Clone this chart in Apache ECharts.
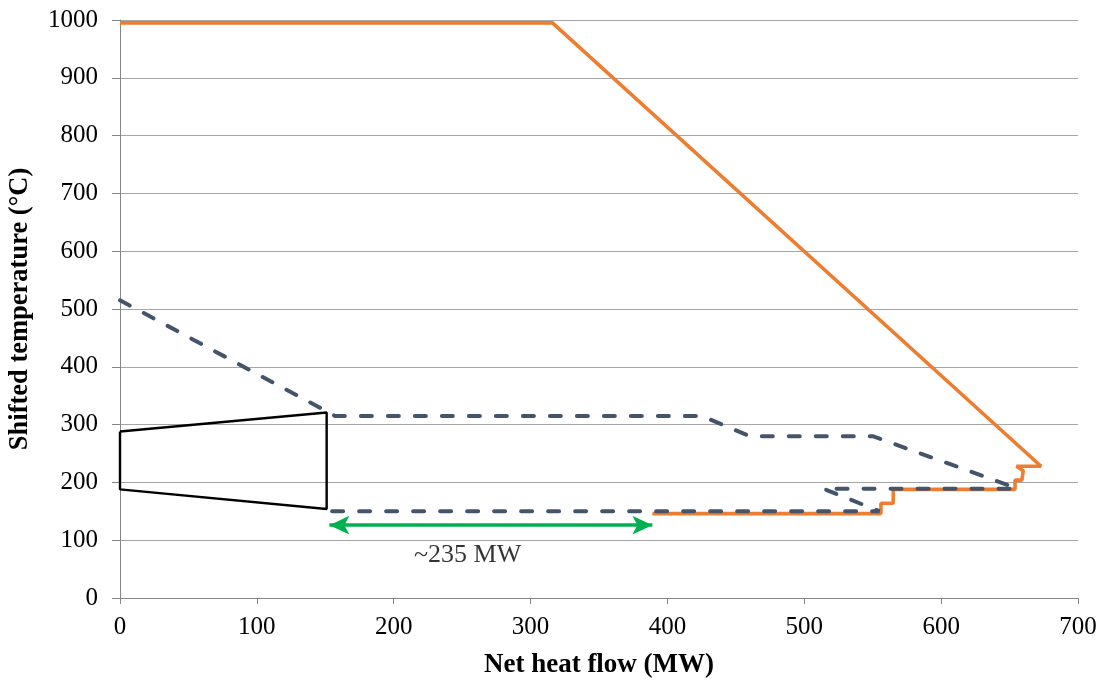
<!DOCTYPE html>
<html><head><meta charset="utf-8">
<script src="https://cdn.jsdelivr.net/npm/echarts@6/dist/echarts.min.js"></script>
<style>html,body{margin:0;padding:0;background:#fff}#c{width:1106px;height:682px}</style>
</head><body><div id="c"></div>
<script>
// Data (x: net heat flow MW, y: shifted temperature °C)
const xTicks = [0,100,200,300,400,500,600,700];
const yTicks = [0,100,200,300,400,500,600,700,800,900,1000];
const grandCompositeCurve = [[0,995],[316,995],[673,228],[655,228],[660,220],[659,204],[654,204],[654,188],[565,188],[565,164],[556,164],[556,146],[389,146]];
const hotDashed = [[0,515],[151,323],[157,315],[425,315],[460,280],[550,280],[655,190]];
const coldDashed = [[155,150],[555,150],[514,189],[655,189]];
const blackOutline = [[0,288],[151,321],[151,154],[0,188],[0,288]];
const arrowStart = [153,126];
const arrowEnd = [389,126];
const arrowLabel = '~235 MW';
const arrowLabelPos = [254,74];

const chart = echarts.init(document.getElementById('c'));
const font = 'Liberation Serif, Times New Roman, serif';
chart.setOption({
  animation:false,
  grid:{left:120,right:28,top:20,bottom:84,containLabel:false,outerBoundsMode:'none'},
  xAxis:{type:'value',min:xTicks[0],max:xTicks[xTicks.length-1],interval:100,
    name:'Net heat flow (MW)',nameLocation:'middle',nameGap:54,
    nameTextStyle:{fontFamily:font,fontSize:27,fontWeight:'bold',color:'#000'},
    axisLine:{show:true,lineStyle:{color:'#868686',width:1}},
    axisTick:{show:true,length:6,lineStyle:{color:'#868686'}},
    axisLabel:{fontFamily:font,fontSize:25,color:'#000',margin:17},
    splitLine:{show:false}},
  yAxis:{type:'value',min:yTicks[0],max:yTicks[yTicks.length-1],interval:100,
    name:'Shifted temperature (°C)',nameLocation:'middle',nameGap:86,
    nameTextStyle:{fontFamily:font,fontSize:26.5,fontWeight:'bold',color:'#000'},
    axisLine:{show:true,lineStyle:{color:'#868686',width:1}},
    axisTick:{show:true,length:8,lineStyle:{color:'#868686'}},
    axisLabel:{fontFamily:font,fontSize:25,color:'#000',margin:22,formatter:v=>String(v)},
    splitLine:{show:true,lineStyle:{color:'#a6a6a6',width:1}}},
  series:[
    {type:'line',data:blackOutline,showSymbol:false,symbol:'none',z:3,
      lineStyle:{color:'#000',width:2.4}},
    {type:'line',data:hotDashed,symbol:'none',z:4,
      lineStyle:{color:'#44546A',width:4,type:[11,16],cap:'round'}},
    {type:'line',data:coldDashed,symbol:'none',z:4,
      lineStyle:{color:'#44546A',width:4,type:[11,16],cap:'round'}},
    {type:'line',data:grandCompositeCurve,symbol:'none',z:3,
      lineStyle:{color:'#ED7D31',width:3.6}},
    {type:'scatter',data:[arrowLabelPos],symbolSize:1,itemStyle:{color:'rgba(0,0,0,0)'},z:5,
      label:{show:true,formatter:arrowLabel,position:'inside',fontFamily:font,fontSize:26,color:'#000',textBorderWidth:0},
      markLine:{silent:true,symbol:['arrow','arrow'],symbolSize:[14,20],
        lineStyle:{color:'#00B050',width:3.5,type:'solid'},label:{show:false},
        data:[[{coord:arrowStart},{coord:arrowEnd}]]}}
  ]
});
</script></body></html>
